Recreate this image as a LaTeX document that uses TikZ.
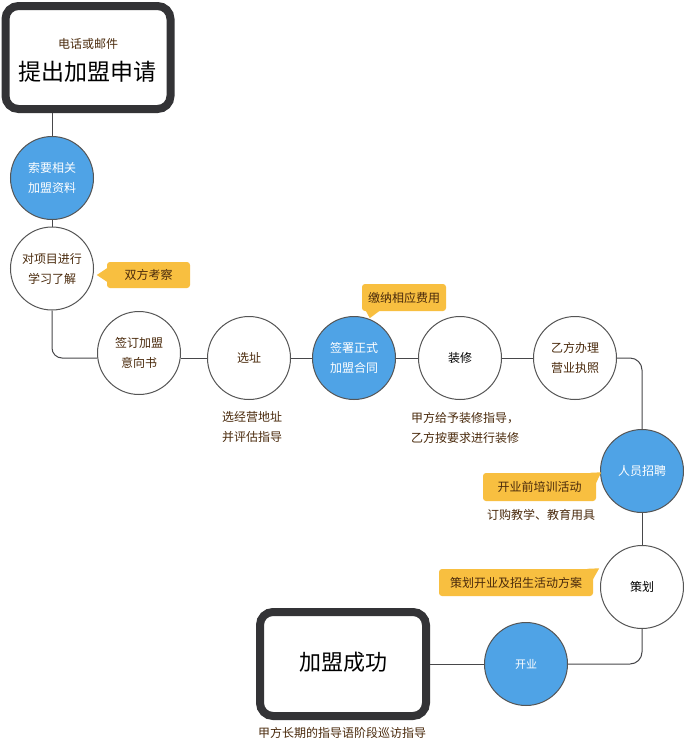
\documentclass[tikz,border=0pt]{standalone}
\usepackage{fontspec}
\setmainfont{Noto Sans CJK SC}
\usetikzlibrary{calc}
\definecolor{bblue}{HTML}{4FA3E6}
\definecolor{byell}{HTML}{F8BF40}
\definecolor{tbrown}{HTML}{4A2A0C}
\definecolor{bdark}{HTML}{333336}
\definecolor{cgray}{HTML}{555555}
\tikzset{
  stepc/.style={circle, draw=cgray, line width=1pt, minimum size=83pt, inner sep=0pt,
    align=center, font=\fontsize{12}{20}\selectfont, text=tbrown, fill=white},
  bluec/.style={stepc, fill=bblue, text=white},
  bigbox/.style={draw=bdark, line width=8pt, rounded corners=13pt, fill=white, inner sep=0pt},
  callbox/.style={fill=byell, rounded corners=3pt, inner sep=0pt, text=tbrown,
    font=\fontsize{12}{14}\selectfont},
  note/.style={text=tbrown, font=\fontsize{12}{20}\selectfont, inner sep=0pt},
  conn/.style={draw=bdark!90, line width=1pt},
}
\begin{document}
\begin{tikzpicture}[x=1pt,y=-1pt]
\useasboundingbox[fill=white] (0,0) rectangle (684,740);

% start box
\node[bigbox, minimum width=165pt, minimum height=103pt] (start) at (88,57.5) {};
\node[note, font=\fontsize{12}{14}\selectfont] (startsub) at (88,44) {电话或邮件};
\node[inner sep=0pt, font=\fontsize{23}{26}\selectfont, text=black] (starttitle) at (88,72) {提出加盟申请};

% vertical steps
\node[bluec] (c1) at (52,178) {索要相关\\加盟资料};
\node[stepc] (c2) at (52,268.5) {对项目进行\\学习了解};

% row of steps
\node[stepc] (c3) at (139,353) {签订加盟\\意向书};
\node[stepc] (c4) at (249,358) {选址};
\node[bluec] (c5) at (354,358) {签署正式\\加盟合同};
\node[stepc, text=black] (c6) at (460,358) {装修};
\node[stepc] (c7) at (575,358) {乙方办理\\营业执照};

% right column
\node[bluec] (c8) at (642,471) {人员招聘};
\node[stepc, text=black] (c9) at (642,587) {策划};

% bottom
\node[bluec, font=\fontsize{11}{14}\selectfont] (c10) at (526,664) {开业};
\node[bigbox, minimum width=166pt, minimum height=104pt] (finish) at (343,664) {};
\node[inner sep=0pt, font=\fontsize{22}{26}\selectfont, text=black] (finishtitle) at (343,662) {加盟成功};

% connectors
\draw[conn] (start.south -| c1.north) -- (c1.north);
\draw[conn] (c1.south) -- (c2.north);
\draw[conn, rounded corners=10pt] (c2.south) |- (c4.west -| c3.west);
\draw[conn] (c4.west -| c3.east) -- (c4.west);
\draw[conn] (c4.east) -- (c5.west);
\draw[conn] (c5.east) -- (c6.west);
\draw[conn] (c6.east) -- (c7.west);
\draw[conn, rounded corners=12pt] (c7.east) -| (c8.north);
\draw[conn] (c8.south) -- (c9.north);
\draw[conn, rounded corners=12pt] (c9.south) |- (c10.east);
\draw[conn] (c10.west) -- (finish.east);

% callouts
\node[callbox, minimum width=83pt, minimum height=26pt] (k1) at (148.5,275) {双方考察};
\fill[byell] ($(k1.west)+(0.5,-7)$) -- ($(k1.west)+(-10,0)$) -- ($(k1.west)+(0.5,7)$) -- cycle;

\node[callbox, minimum width=84pt, minimum height=27pt] (k2) at (404,297.5) {缴纳相应费用};
\fill[byell] ($(k2.south west)+(4,-0.5)$) -- ($(k2.south west)+(18,-0.5)$) -- ($(k2.south west)+(8,7)$) -- cycle;

\node[callbox, minimum width=113pt, minimum height=28pt] (k3) at (539.5,487) {开业前培训活动};
\fill[byell] ($(k3.north east)+(-6,0)$) -- ($(k3.north east)+(5,-0.5)$) -- ($(k3.north east)+(-0.5,11)$) -- cycle;

\node[callbox, minimum width=154pt, minimum height=27pt] (k4) at (516,582.5) {策划开业及招生活动方案};
\fill[byell] ($(k4.north east)+(-6,0)$) -- ($(k4.north east)+(6,-0.5)$) -- ($(k4.north east)+(-0.5,11)$) -- cycle;

% notes
\node[note, align=center] (n1) at (252,427) {选经营地址\\并评估指导};
\node[note, align=left, anchor=west] (n2) at (411,428) {甲方给予装修指导，\\乙方按要求进行装修};
\node[note] (n3) at (541,515) {订购教学、教育用具};
\node[note, anchor=west] (n4) at (258,732.5) {甲方长期的指导语阶段巡访指导};
\end{tikzpicture}
\end{document}
